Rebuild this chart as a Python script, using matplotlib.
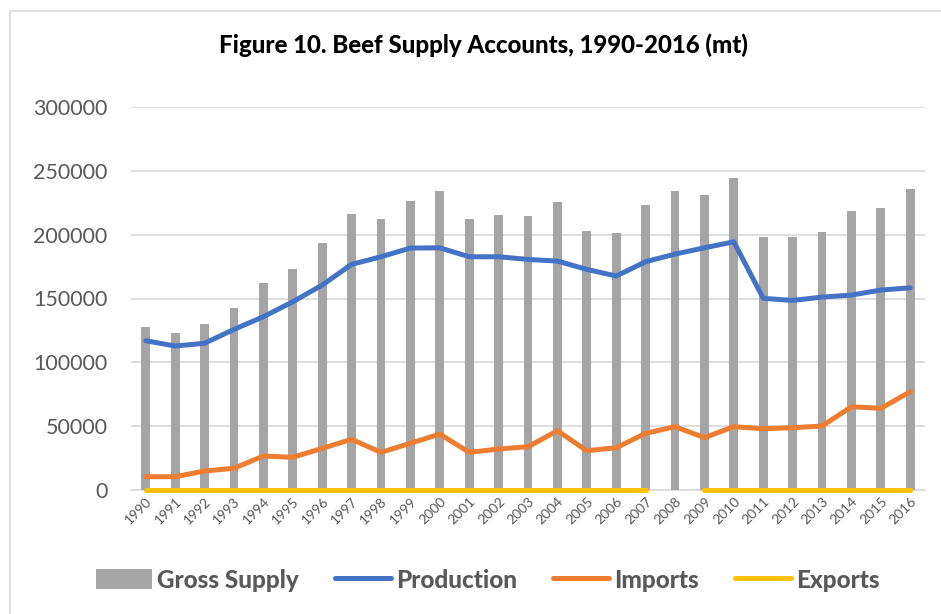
import numpy as np
import matplotlib.pyplot as plt
from matplotlib.patches import Rectangle

years = [str(y) for y in range(1990, 2017)]
gross_supply = [127500, 122700, 130000, 142700, 162300, 173300, 193200, 216100, 212200,
                226000, 233900, 212200, 215300, 214800, 225500, 203000, 201000, 222900,
                234100, 231000, 244500, 198300, 197900, 201800, 218500, 220800, 235400]
production = [116900, 112800, 114900, 125800, 135700, 147400, 160500, 176700, 182700,
              189500, 189700, 182700, 182700, 180600, 179300, 172800, 167600, 178800,
              184800, 189700, 194400, 150100, 148500, 151100, 152700, 156600, 158400]
imports = [10400, 10400, 14900, 17000, 26600, 25600, 32600, 39700, 29500,
           36600, 43800, 29500, 32100, 33900, 46400, 30800, 33100, 44400,
           49600, 41000, 49600, 48000, 48800, 50100, 65200, 64000, 77000]
exports = [0] * 18 + [np.nan] + [0] * 8

plt.rcParams["font.family"] = ["Lato", "DejaVu Sans"]
grey = "#595959"
fig = plt.figure(figsize=(9.41, 6.14), dpi=100)
ax = fig.add_axes([131 / 941, 1 - 490 / 614, 794 / 941, 383 / 614])

# chart border (only left and top visible in the crop)
fig.patches.append(Rectangle((10 / 941, -0.1), 1.2, 1 - 11 / 614 + 0.1,
                             transform=fig.transFigure, fill=False,
                             edgecolor="#d9d9d9", linewidth=1.2))

x = np.arange(len(years))
bars = ax.bar(x, gross_supply, width=0.3, color="#a5a5a5", label="Gross Supply", zorder=2)
l1, = ax.plot(x, production, color="#4472c4", lw=3.6, solid_capstyle="round",
              label="Production", zorder=4, clip_on=False)
l2, = ax.plot(x, imports, color="#ed7d31", lw=3.6, solid_capstyle="round",
              label="Imports", zorder=4, clip_on=False)
l3, = ax.plot(x, exports, color="#ffc000", lw=3.6, solid_capstyle="round",
              label="Exports", zorder=5, clip_on=False)

ax.set_xlim(-0.5, len(years) - 0.5)
ax.set_ylim(0, 300000)
ax.set_yticks(range(0, 300001, 50000))
ax.yaxis.grid(True, color="#d9d9d9", lw=1.2, zorder=0)
ax.set_axisbelow(True)
for s in ["top", "right", "left"]:
    ax.spines[s].set_visible(False)
ax.spines["bottom"].set_color("#d9d9d9")
ax.spines["bottom"].set_linewidth(1.2)
ax.spines["bottom"].set_zorder(1)
ax.tick_params(axis="both", length=0, colors=grey)
ax.tick_params(axis="y", labelsize=15.5, pad=17)
ax.set_xticks(x)
ax.set_xticklabels(years, rotation=45, ha="right", rotation_mode="anchor", fontsize=10)

fig.text(483 / 941, 1 - 45 / 614, "Figure 10. Beef Supply Accounts, 1990-2016 (mt)",
         ha="center", va="center", fontsize=17.3, fontweight="black", color="black")

leg = fig.legend([bars, l1, l2, l3], ["Gross Supply", "Production", "Imports", "Exports"],
                 loc="center", bbox_to_anchor=(488 / 941, 1 - 580 / 614), ncol=4,
                 frameon=False, handlelength=2.3, handleheight=0.9, columnspacing=1.5,
                 handletextpad=0.2, prop={"size": 17.5, "weight": "black"})
for t in leg.get_texts():
    t.set_color(grey)

fig.savefig("out.png", dpi=100)
